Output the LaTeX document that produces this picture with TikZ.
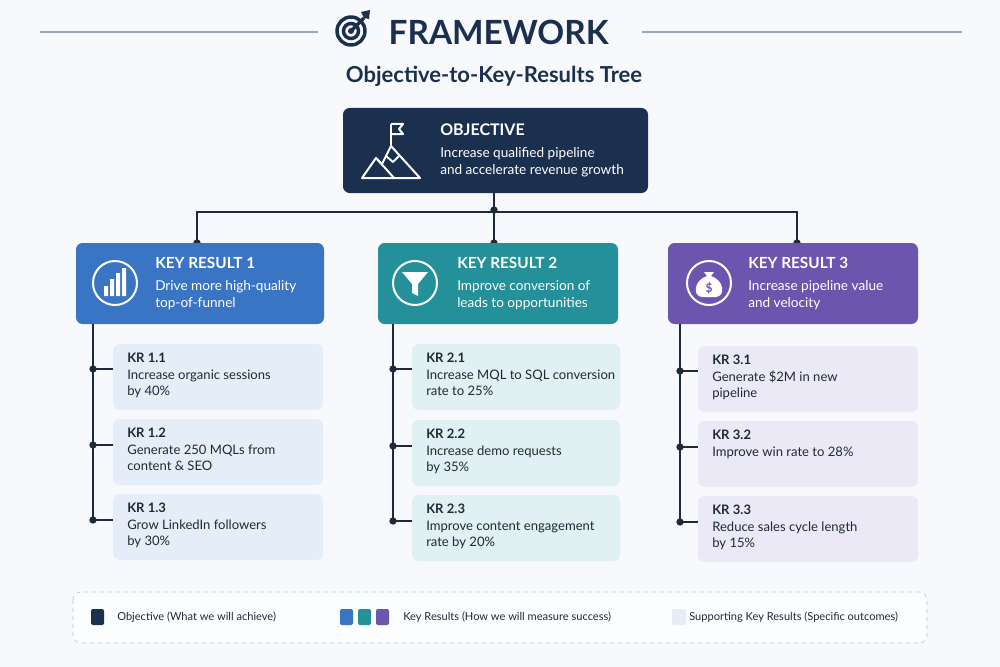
\documentclass[tikz,border=0pt]{standalone}
\usepackage{fontspec}
\setmainfont{Lato}
\usetikzlibrary{arrows.meta}
\definecolor{bg}{HTML}{F7F9FC}
\definecolor{navy}{HTML}{1B2F4E}
\definecolor{kbA}{HTML}{3A74C5}
\definecolor{kbB}{HTML}{23909A}
\definecolor{kbC}{HTML}{6C55AF}
\definecolor{sA}{HTML}{E5EDF8}
\definecolor{sB}{HTML}{E1F0F2}
\definecolor{sC}{HTML}{ECE9F6}
\definecolor{ln}{HTML}{1E2A3A}
\definecolor{rule}{HTML}{9AA8B8}
\begin{document}
\begin{tikzpicture}[x=0.75pt,y=-0.75pt,
  box/.style={rounded corners=5pt,inner sep=0pt,draw=none},
  conn/.style={draw=ln,line width=1.1pt},
  dot/.style={circle,fill=ln,inner sep=0pt,minimum size=5.5pt},
  subt/.style={anchor=north west,align=left,font=\fontsize{9.8}{12.4}\selectfont,text=ln,inner sep=0pt},
  hdt/.style={anchor=north west,align=left,font=\fontsize{10.2}{12.8}\selectfont,text=white,inner sep=0pt},
  leg/.style={anchor=west,font=\fontsize{8.3}{9}\selectfont,text=ln,inner sep=0pt},
  icon/.style={draw=white,line width=1.5pt,line join=round}]
\useasboundingbox (0,0) rectangle (1000,667);
\fill[bg] (0,0) rectangle (1000,667);
% header
\draw[rule,line width=1pt] (40,32) -- (318,32);
\draw[rule,line width=1pt] (642,32) -- (962,32);
\begin{scope}[navy,line width=2.6pt]
\draw (351,31) circle (14);
\draw (351,31) circle (7.5);
\fill (351,31) circle (3);
\draw (351,31) -- (364,18);
\fill (364,18) -- (361,12) -- (370,10) -- (369,19) -- cycle;
\end{scope}
\node[font=\fontsize{25}{28}\bfseries\selectfont,text=navy,anchor=west] (title) at (384,32) {FRAMEWORK};
\node[font=\fontsize{16.5}{20}\bfseries\selectfont,text=navy] (sub) at (494,76) {Objective-to-Key-Results Tree};
% objective
\path[box,fill=navy] (343,108) rectangle (648,193);
\coordinate (ob) at (494,193);
\begin{scope}[icon]
\draw (362,178) -- (376,158) -- (382,164) -- (391,146) -- (420,178) -- cycle;
\draw (386,156) -- (393,162) -- (399,156);
\draw (376,158) -- (386,169) -- (394,178);
\draw (391,146) -- (391,124);
\draw (391,124) -- (403,124) -- (399,129) -- (403,134) -- (391,134);
\end{scope}
\node[hdt,font=\fontsize{12}{14}\bfseries\selectfont] (objt) at (440,124) {OBJECTIVE};
\node[hdt] (objb) at (440,147) {Increase qualified pipeline\\and accelerate revenue growth};
% connectors top
\coordinate (j1) at (197,212);
\coordinate (j3) at (797,212);
\coordinate (t1) at (197,243);
\coordinate (t2) at (494,243);
\coordinate (t3) at (797,243);
\draw[conn] (ob) -- (t2);
\draw[conn] (t1) -- (j1) -- (j3) -- (t3);
\node[dot] at (494,210) {};
\node[dot] at (t1) {}; \node[dot] at (t2) {}; \node[dot] at (t3) {};
% KR boxes
\path[box,fill=kbA] (76,243) rectangle (324,324);
\path[box,fill=kbB] (378,243) rectangle (618,324);
\path[box,fill=kbC] (668,243) rectangle (918,324);
% icon 1
\draw[icon] (115,283) circle (22);
\fill[white] (104,286) rectangle (108,296) (110,279) rectangle (114,296) (116,273) rectangle (120,296) (122,268) rectangle (126,296);
% icon 2
\draw[icon] (415,283) circle (22);
\fill[white] (402,272) -- (428,272) -- (418,284) -- (418,296) -- (412,293) -- (412,284) -- cycle;
% icon 3
\draw[icon] (709,283) circle (22);
\fill[white] (704,272) -- (714,272) -- (711,276) .. controls (724,280) and (726,296) .. (716,297) -- (702,297) .. controls (692,296) and (694,280) .. (707,276) -- cycle;
\node[font=\fontsize{9}{9}\bfseries\selectfont,text=kbC,inner sep=0pt] (dol) at (709,288) {\$};
\node[hdt,font=\fontsize{11.5}{14}\bfseries\selectfont] (k1t) at (155,257) {KEY RESULT 1};
\node[hdt] (k1b) at (155,280) {Drive more high-quality\\top-of-funnel};
\node[hdt,font=\fontsize{11.5}{14}\bfseries\selectfont] (k2t) at (457,257) {KEY RESULT 2};
\node[hdt] (k2b) at (457,280) {Improve conversion of\\leads to opportunities};
\node[hdt,font=\fontsize{11.5}{14}\bfseries\selectfont] (k3t) at (748,257) {KEY RESULT 3};
\node[hdt] (k3b) at (748,280) {Increase pipeline value\\and velocity};
% sub boxes
\newcommand\subbox[6]{%
  \path[box,fill=#1] (#2,#3) rectangle (#4,#3+66);
  \node[subt] at (#2+14,#3+9) {\textbf{#5}\\#6};}
\subbox{sA}{113}{344}{323}{KR 1.1}{Increase organic sessions\\by 40\%}
\subbox{sA}{113}{419}{323}{KR 1.2}{Generate 250 MQLs from\\content \& SEO}
\subbox{sA}{113}{494}{323}{KR 1.3}{Grow LinkedIn followers\\by 30\%}
\subbox{sB}{412}{344}{620}{KR 2.1}{Increase MQL to SQL conversion\\rate to 25\%}
\subbox{sB}{412}{420}{620}{KR 2.2}{Increase demo requests\\by 35\%}
\subbox{sB}{412}{495}{620}{KR 2.3}{Improve content engagement\\rate by 20\%}
\subbox{sC}{698}{346}{918}{KR 3.1}{Generate \$2M in new\\pipeline}
\subbox{sC}{698}{421}{918}{KR 3.2}{Improve win rate to 28\%}
\subbox{sC}{698}{496}{918}{KR 3.3}{Reduce sales cycle length\\by 15\%}
% spines
\draw[conn] (93,324) -- (93,520);
\foreach \y in {369,445,520} {\draw[conn] (93,\y) -- (113,\y); \node[dot] at (93,\y) {};}
\draw[conn] (393,324) -- (393,521);
\foreach \y in {369,446,521} {\draw[conn] (393,\y) -- (412,\y); \node[dot] at (393,\y) {};}
\draw[conn] (680,324) -- (680,522);
\foreach \y in {371,447,522} {\draw[conn] (680,\y) -- (698,\y); \node[dot] at (680,\y) {};}
% legend
\draw[rule!70,dashed,rounded corners=6pt,fill=white!60!bg] (73,592) rectangle (927,643);
\fill[navy,rounded corners=1.5pt] (91,609) rectangle (104,625);
\node[leg] (l1) at (117,617) {Objective (What we will achieve)};
\fill[kbA,rounded corners=1.5pt] (340,609) rectangle (353,625);
\fill[kbB,rounded corners=1.5pt] (358,609) rectangle (371,625);
\fill[kbC,rounded corners=1.5pt] (376,609) rectangle (389,625);
\node[leg] (l2) at (403,617) {Key Results (How we will measure success)};
\fill[sA,rounded corners=1.5pt] (672,609) rectangle (686,625);
\node[leg] (l3) at (689,617) {Supporting Key Results (Specific outcomes)};
\end{tikzpicture}
\end{document}
